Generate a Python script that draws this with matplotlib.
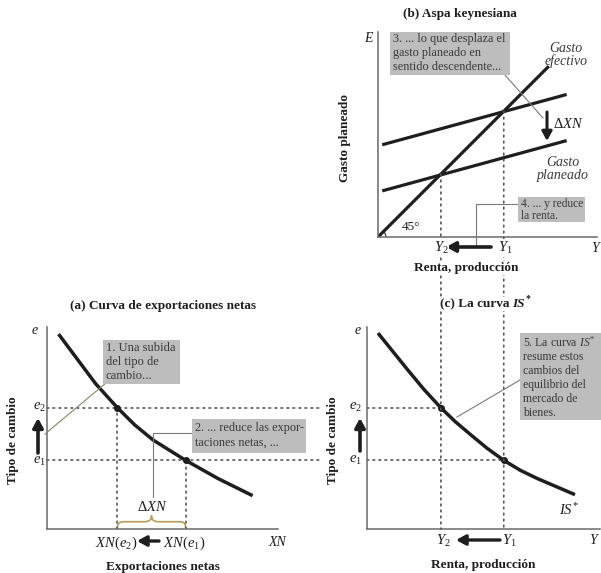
import matplotlib
matplotlib.use("Agg")
import matplotlib.pyplot as plt
from matplotlib.patches import ConnectionPatch, Arc, FancyArrowPatch, Rectangle, PathPatch
from matplotlib.path import Path
from matplotlib.lines import Line2D
from matplotlib.transforms import Affine2D

plt.rcParams['font.family'] = ['Liberation Serif', 'DejaVu Serif']
plt.rcParams['mathtext.fontset'] = 'custom'
plt.rcParams['mathtext.rm'] = 'Liberation Serif'
plt.rcParams['mathtext.it'] = 'Liberation Serif:italic'
plt.rcParams['mathtext.bf'] = 'Liberation Serif:bold'

# ---------------- data ----------------
# (a) net exports curve  NX(e)
nx_curve_x = [0.5, 1.35, 2.1, 3.05, 3.8, 4.6, 6.0, 7.4, 8.9]
nx_curve_e = [9.65, 8.35, 7.2, 6.0, 5.15, 4.4, 3.4, 2.5, 1.65]
e_levels = [3.4, 6.0]          # e1, e2
nx_levels = [6.0, 3.05]        # XN(e1), XN(e2)

# (b) Keynesian cross
line45_y = [0.0, 8.15]
pe_x = [0.2, 9.0]
pe_upper = [4.4, 6.8]
pe_lower = [2.2, 4.6]
y_levels = [6.0, 3.0]          # Y1, Y2

# (c) IS* curve
is_y = [0.0, 0.7, 1.4, 2.2, 3.0, 3.7, 4.5, 5.2, 6.0, 6.8, 7.6, 8.5, 9.4]
is_e = [9.7, 8.8, 7.9, 6.9, 6.0, 5.3, 4.6, 4.0, 3.4, 2.9, 2.5, 2.1, 1.7]

# ---------------- figure ----------------
W, H = 601, 573
fig = plt.figure(figsize=(W / 100, H / 100), dpi=100)
P = Affine2D().scale(1.0 / W, -1.0 / H).translate(0, 1) + fig.transFigure

INK = '#1e1e1e'
AXC = '#6a6a6a'
DOT = '#555555'
BOXC = '#bdbdbd'
BOXT = '#383838'
LEAD = '#7a7a7a'


def rect(l, t, r, b):
    return [l / W, 1 - b / H, (r - l) / W, (b - t) / H]


def style(ax):
    ax.patch.set_visible(False)
    for s in ['top', 'right']:
        ax.spines[s].set_visible(False)
    for s in ['left', 'bottom']:
        ax.spines[s].set_color(AXC)
        ax.spines[s].set_linewidth(1.1)
    ax.set_xticks([])
    ax.set_yticks([])


ax_b = fig.add_axes(rect(378, 32, 597, 237))
ax_b.set_xlim(0, 219 / 20.96)
ax_b.set_ylim(0, 205 / 20.96)
ax_a = fig.add_axes(rect(47, 327, 278, 529))
ax_a.set_xlim(0, 10)
ax_a.set_ylim(0, 10)
ax_c = fig.add_axes(rect(367, 327, 600, 529))
ax_c.set_xlim(-11 / 20.96, 222 / 20.96)
ax_c.set_ylim(0, 10)
for ax in (ax_a, ax_b, ax_c):
    style(ax)

dots = dict(color=DOT, lw=1.2, linestyle=(0, (1, 2.6)), dash_capstyle='round')

# ---- panel (b)
ax_b.plot(line45_y, line45_y, color=INK, lw=2.3, solid_capstyle='butt')
ax_b.plot(pe_x, pe_upper, color=INK, lw=2.3, solid_capstyle='butt')
ax_b.plot(pe_x, pe_lower, color=INK, lw=2.3, solid_capstyle='butt')
ax_b.add_patch(Arc((0, 0), 0.75, 0.75, theta1=0, theta2=45, color=INK, lw=0.8))

# ---- panel (a)
for e, x in zip(e_levels, nx_levels):
    ax_a.plot([0, 11.95], [e, e], clip_on=False, **dots)
    ax_a.plot([x, x], [0, e], **dots)
ax_a.plot(nx_curve_x, nx_curve_e, color=INK, lw=2.5, solid_joinstyle='round', solid_capstyle='butt')
ax_a.plot(nx_levels, e_levels, 'o', ms=4, color=INK)

# brace under Delta XN
x0, x1 = nx_levels[1], nx_levels[0]
y0, h = 0.05, 0.62
xm, r = (x0 + x1) / 2, 0.35
verts = [(x0, y0), (x0, y0 + h * 0.45), (x0 + r * 0.3, y0 + h / 2), (x0 + r, y0 + h / 2),
         (xm - r, y0 + h / 2),
         (xm - r * 0.3, y0 + h / 2), (xm, y0 + h * 0.6), (xm, y0 + h),
         (xm, y0 + h * 0.6), (xm + r * 0.3, y0 + h / 2), (xm + r, y0 + h / 2),
         (x1 - r, y0 + h / 2),
         (x1 - r * 0.3, y0 + h / 2), (x1, y0 + h * 0.45), (x1, y0)]
codes = [Path.MOVETO, Path.CURVE4, Path.CURVE4, Path.CURVE4, Path.LINETO,
         Path.CURVE4, Path.CURVE4, Path.CURVE4, Path.CURVE4, Path.CURVE4, Path.CURVE4,
         Path.LINETO, Path.CURVE4, Path.CURVE4, Path.CURVE4]
ax_a.add_patch(PathPatch(Path(verts, codes), fc='none', ec='#b59d58', lw=1.2, clip_on=False))

# ---- panel (c)
for e, y in zip(e_levels, y_levels):
    ax_c.plot([ax_c.get_xlim()[0], y], [e, e], **dots)
ax_c.plot(is_y, is_e, color=INK, lw=2.5, solid_joinstyle='round', solid_capstyle='butt')
ax_c.plot(y_levels, e_levels, 'o', ms=4, color=INK)

# vertical dotted lines from keynesian cross down to IS* panel
for y in y_levels:
    con = ConnectionPatch(xyA=(y, y), coordsA=ax_b.transData,
                          xyB=(y, 0), coordsB=ax_c.transData,
                          color=DOT, lw=1.2, linestyle=(0, (1, 2.6)), zorder=1)
    fig.add_artist(con)

# ---------------- helpers ----------------
def txt(x, y, s, size=10, **kw):
    kw.setdefault('ha', 'center')
    kw.setdefault('va', 'center')
    kw.setdefault('color', INK)
    return fig.text(x, y, s, transform=P, fontsize=size, zorder=4, **kw)


white = dict(fc='white', ec='none', pad=0.6)


def arrow(p0, p1, lw=2.6):
    fig.add_artist(FancyArrowPatch(p0, p1, transform=P, arrowstyle='-|>,head_length=0.55,head_width=0.3',
                                   mutation_scale=10, lw=lw, color=INK, shrinkA=0, shrinkB=0, zorder=3))


def leader(xs, ys, color=LEAD):
    fig.add_artist(Line2D(xs, ys, transform=P, color=color, lw=0.8, zorder=2))


def box(l, t, r, b, s, size=8.8, pad=3, ls=1.14, top=1):
    fig.add_artist(Rectangle((l, t), r - l, b - t, transform=P, fc=BOXC, ec='none', zorder=2.5))
    fig.text(l + pad, t + top, s, transform=P, fontsize=size, color=BOXT, ha='left', va='top',
             linespacing=ls, zorder=3)


# ---------------- texts panel (b) ----------------
txt(460, 14, '(b) Aspa keynesiana', 9.5, fontweight='bold', bbox=white)
txt(345, 138, 'Gasto planeado', 9.5, fontweight='bold', rotation=90)
txt(368, 38, 'E', 10, style='italic')
txt(595, 248, 'Y', 10, style='italic')
txt(441, 248, '$Y_2$', 10.5, bbox=white)
txt(505, 248, '$Y_1$', 10.5, bbox=white)
txt(466, 268, 'Renta, producción', 9.5, fontweight='bold', bbox=white)
txt(411, 227, '45°', 9.5)
txt(566, 55, 'Gasto\nefectivo', 10, style='italic', color='#3a3a3a', linespacing=0.95)
txt(563, 169, 'Gasto\nplaneado', 10, style='italic', color='#3a3a3a', linespacing=0.95)
txt(553, 124, r'$\Delta XN$', 10.5, ha='left')
arrow((547, 112), (547, 141), lw=2.2)
arrow((491, 247), (446, 247))
box(390, 32, 510, 75, '3. ... lo que desplaza el\ngasto planeado en\nsentido descendente...', ls=1.25)
leader([505, 543], [75, 118])
box(518, 197, 585, 222, '4. ... y reduce\nla renta.', size=8.3, ls=1.05)
leader([518, 476, 476], [204, 204, 245])

# ---------------- texts panel (a) ----------------
txt(163, 306, '(a) Curva de exportaciones netas', 9.5, fontweight='bold')
txt(13, 440, 'Tipo de cambio', 9.5, fontweight='bold', rotation=90)
txt(35, 330, 'e', 10, style='italic')
txt(40, 407, '$e_2$', 10.5)
txt(40, 461, '$e_1$', 10.5)
arrow((38, 453), (38, 418))
txt(277, 543, 'XN', 10, style='italic')
txt(116, 543, '$XN(e_2)$', 10.5)
txt(184, 543, '$XN(e_1)$', 10.5)
arrow((159, 541), (137, 541), lw=2.4)
txt(152, 507, r'$\Delta XN$', 10.5)
txt(163, 567, 'Exportaciones netas', 9.5, fontweight='bold')
box(103, 340, 180, 384, '1. Una subida\ndel tipo de\ncambio...', size=9.0, ls=1.2, top=2)
leader([106, 45], [383, 434], color='#8c8468')
box(192, 419, 306, 453, '2. ... reduce las expor-\ntaciones netas, ...', ls=1.35, top=3)
leader([192, 153, 153], [433, 433, 497])

# ---------------- texts panel (c) ----------------
txt(509, 304, '(c) La curva', 9.5, fontweight='bold', ha='right', bbox=white)
txt(512, 304, 'IS', 9.5, fontweight='bold', style='italic', ha='left', bbox=white)
txt(526, 299, '*', 7, fontweight='bold', ha='left')
txt(333, 440, 'Tipo de cambio', 9.5, fontweight='bold', rotation=90)
txt(358, 330, 'e', 10, style='italic')
txt(356, 407, '$e_2$', 10.5)
txt(356, 460, '$e_1$', 10.5)
arrow((360, 451), (360, 418))
txt(593, 540, 'Y', 10, style='italic')
txt(443, 541, '$Y_2$', 10.5)
txt(509, 541, '$Y_1$', 10.5)
arrow((500, 540), (456, 540), lw=2.4)
txt(483, 565, 'Renta, producción', 9.5, fontweight='bold')
txt(569, 510, '$IS^{*}$', 10.5)
box(520, 333, 605, 420, '5. La curva $IS^{*}$\nresume estos\ncambios del\nequilibrio del\nmercado de\nbienes.',
    size=8.5, ls=1.2, top=2)
leader([520, 457], [380, 417])

fig.savefig('out.png', dpi=100, facecolor='white')
